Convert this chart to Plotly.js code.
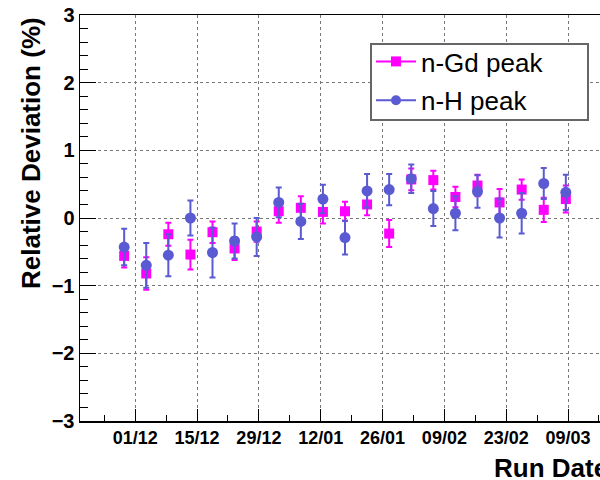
<!DOCTYPE html>
<html>
<head>
<meta charset="utf-8">
<script src="https://cdn.plot.ly/plotly-3.0.1.min.js"></script>
<style>
html, body { margin: 0; padding: 0; overflow: hidden; background: #fff; }
#plot { width: 640px; height: 480px; }
</style>
</head>
<body>
<div id="plot"></div>
<script>
// Run dates (every 5 days, noon)
var runDates = [
  "2012-11-28 12:00", "2012-12-03 12:00", "2012-12-08 12:00", "2012-12-13 12:00",
  "2012-12-18 12:00", "2012-12-23 12:00", "2012-12-28 12:00", "2013-01-02 12:00",
  "2013-01-07 12:00", "2013-01-12 12:00", "2013-01-17 12:00", "2013-01-22 12:00",
  "2013-01-27 12:00", "2013-02-01 12:00", "2013-02-06 12:00", "2013-02-11 12:00",
  "2013-02-16 12:00", "2013-02-21 12:00", "2013-02-26 12:00", "2013-03-03 12:00",
  "2013-03-08 12:00"
];
// n-Gd peak relative deviation (%) and errors
var gdDev = [-0.56, -0.82, -0.24, -0.54, -0.21, -0.45, -0.20, 0.10, 0.15, 0.09, 0.10,
             0.20, -0.23, 0.57, 0.56, 0.31, 0.48, 0.23, 0.42, 0.12, 0.28];
var gdErr = [0.17, 0.24, 0.17, 0.22, 0.16, 0.17, 0.15, 0.17, 0.17, 0.17, 0.14,
             0.16, 0.20, 0.16, 0.14, 0.15, 0.16, 0.20, 0.15, 0.18, 0.20];
// n-H peak relative deviation (%) and errors
var hDev = [-0.43, -0.70, -0.55, 0.00, -0.51, -0.34, -0.28, 0.23, -0.05, 0.28, -0.29,
            0.40, 0.42, 0.58, 0.14, 0.07, 0.39, 0.00, 0.07, 0.51, 0.38];
var hErr = [0.27, 0.33, 0.31, 0.26, 0.37, 0.26, 0.28, 0.22, 0.26, 0.21, 0.25,
            0.25, 0.23, 0.21, 0.26, 0.25, 0.24, 0.29, 0.30, 0.23, 0.26];
var seriesNames = ["n-Gd peak", "n-H peak"];

var gdColor = "#ff00ff";
var hColor = "#5a5ad2";
var DAY = 86400000;
var FONT = "Liberation Sans, Arial, sans-serif";

var traces = [
  {
    x: runDates, y: gdDev, type: "scatter", mode: "markers", showlegend: false,
    marker: {symbol: "square", size: 10, color: gdColor},
    error_y: {type: "data", array: gdErr, visible: true, color: gdColor, thickness: 2, width: 3}
  },
  {
    x: runDates, y: hDev, type: "scatter", mode: "markers", showlegend: false,
    marker: {symbol: "circle", size: 11, color: hColor},
    error_y: {type: "data", array: hErr, visible: true, color: hColor, thickness: 2, width: 3}
  },
  {
    x: [null], y: [null], type: "scatter", mode: "lines+markers", name: seriesNames[0],
    legendgroup: "a",
    line: {color: gdColor, width: 2}, marker: {symbol: "square", size: 10, color: gdColor}
  },
  {
    x: [null], y: [null], type: "scatter", mode: "lines+markers", name: seriesNames[1],
    legendgroup: "b",
    line: {color: hColor, width: 2}, marker: {symbol: "circle", size: 10, color: hColor}
  }
];

// plot area: x 80..610 px, y 15..421 px
function px2x(p) { return (p - 80) / 530; }
function px2y(p) { return (421 - p) / 406; }

var layout = {
  width: 640, height: 480,
  margin: {l: 80, r: 30, t: 15, b: 59},
  paper_bgcolor: "#fff", plot_bgcolor: "#fff",
  font: {family: FONT, color: "#000"},
  showlegend: true,
  xaxis: {
    type: "date",
    range: ["2012-11-18 12:00", "2013-03-18 12:00"],
    tick0: "2012-12-01", dtick: 14 * DAY, tickformat: "%d/%m",
    ticks: "inside", ticklen: 12, tickwidth: 1, tickcolor: "#000",
    minor: {dtick: 7 * DAY, tick0: "2012-12-01", ticks: "inside", ticklen: 6, tickcolor: "#000", showgrid: false},
    showgrid: true, gridcolor: "#777", griddash: "dot", gridwidth: 1,
    showline: true, mirror: true, linecolor: "#000", linewidth: 1.5,
    zeroline: false,
    tickfont: {size: 18, family: FONT, weight: "bold"}
  },
  yaxis: {
    range: [-3, 3], dtick: 1, tick0: 0,
    ticks: "inside", ticklen: 16, tickwidth: 1, tickcolor: "#000",
    minor: {dtick: 0.2, ticks: "inside", ticklen: 8, tickcolor: "#000", showgrid: false},
    showgrid: true, gridcolor: "#777", griddash: "dot", gridwidth: 1,
    showline: true, mirror: true, linecolor: "#000", linewidth: 1.5,
    zeroline: false,
    tickfont: {size: 20, family: FONT, weight: "bold"}
  },
  legend: {
    x: px2x(371), y: px2y(38), xanchor: "left", yanchor: "top",
    bgcolor: "rgba(0,0,0,0)", borderwidth: 0,
    font: {size: 26, family: FONT},
    itemwidth: 40, tracegroupgap: 2, traceorder: "grouped"
  },
  shapes: [
    {
      type: "rect", xref: "paper", yref: "paper", layer: "above",
      x0: px2x(371), x1: px2x(588), y0: px2y(44), y1: px2y(120),
      fillcolor: "#fff", line: {color: "#666", width: 2}
    }
  ],
  annotations: [
    {
      text: "Relative Deviation (%)", xref: "paper", yref: "paper",
      x: -0.0925, y: 1, xanchor: "center", yanchor: "top", textangle: -90,
      showarrow: false,
      font: {size: 26, family: FONT, weight: "bold"}
    },
    {
      text: "Run Date", xref: "paper", yref: "paper",
      x: 1, y: -0.116, xanchor: "right", yanchor: "middle",
      showarrow: false,
      font: {size: 26, family: FONT, weight: "bold"}
    }
  ]
};

Plotly.newPlot("plot", traces, layout, {staticPlot: true, displayModeBar: false});
</script>
</body>
</html>
